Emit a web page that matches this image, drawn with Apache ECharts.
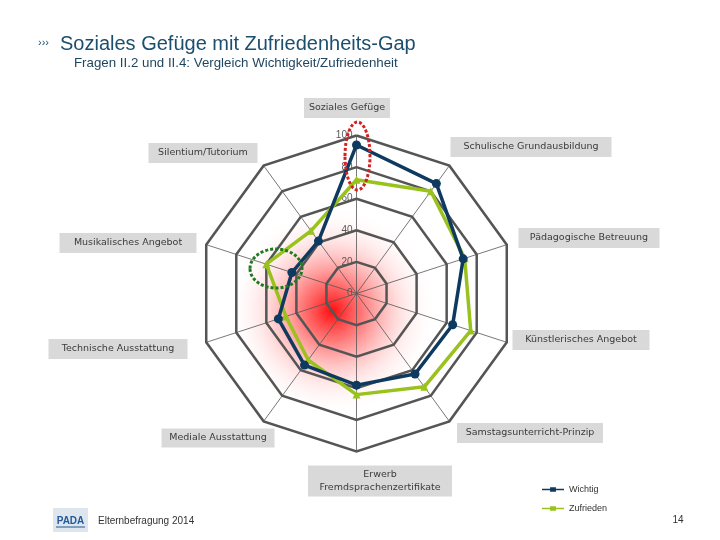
<!DOCTYPE html>
<html><head><meta charset="utf-8">
<script src="https://cdn.jsdelivr.net/npm/echarts@6/dist/echarts.min.js"></script>
<style>html,body{margin:0;padding:0;background:#fff}#c{width:720px;height:540px}</style>
</head><body><div id="c"></div>
<script>
// ---- data (clockwise from top) ----
const categories = ['Soziales Gefüge','Schulische Grundausbildung','Pädagogische Betreuung','Künstlerisches Angebot','Samstagsunterricht-Prinzip','Erwerb\nFremdsprachenzertifikate','Mediale Ausstattung','Technische Ausstattung','Musikalisches Angebot','Silentium/Tutorium'];
const wichtig   = [94, 86, 71, 64, 63, 58, 56, 52, 43, 41];
const zufrieden = [72, 80, 72, 76, 73, 64, 52, 47, 60, 49];
const seriesNames = ['Wichtig', 'Zufrieden'];
const axisMin = 0, axisMax = 100, axisSplits = 5;

// ---- layout (label boxes: cx, cy, w, h) ----
const labelBoxes = [[347,108,86,20],[531,147,161,20],[589,238,141,20],[581,340,137,20],[530,433,146,20],[380,481,144,31],[218,438,113,19],[118,349,139,20],[128,243,137,20],[203,153,109,20]];
const CX = 356.5, CY = 293.5, R = 158;
const NAVY = '#0f3a60', GREEN = '#99c21d', TITLE = '#1c4e6e';

// ECharts lays radar indicators counter-clockwise: reorder to get clockwise
const order = categories.map((_, i) => (categories.length - i) % categories.length);
const indicator = order.map(i => ({ name: categories[i], min: axisMin, max: axisMax }));
indicator[0].axisLabel = { show: true, color: '#595959', fontSize: 10, fontFamily: 'Liberation Sans', margin: 4, align: 'right' };

const graphics = [];
// red radial glow below the grid
graphics.push({ type: 'circle', z: -10, silent: true, shape: { cx: 332, cy: 311, r: 105 },
  style: { fill: { type: 'radial', x: 0.5, y: 0.5, r: 0.5, colorStops: [
    { offset: 0, color: 'rgba(255,0,0,0.95)' }, { offset: 0.3, color: 'rgba(255,40,40,0.6)' },
    { offset: 0.65, color: 'rgba(255,120,120,0.22)' }, { offset: 1, color: 'rgba(255,255,255,0)' }] } } });
// category label boxes
categories.forEach((name, i) => {
  const [cx, cy, w, h] = labelBoxes[i];
  graphics.push({ type: 'rect', z: 5, shape: { x: cx - w / 2, y: cy - h / 2, width: w, height: h }, style: { fill: '#d9d9d9' } });
  graphics.push({ type: 'text', z: 6, x: cx, y: cy, style: { text: name, fill: '#3a3a3a', font: '9.5px "DejaVu Sans"', align: 'center', verticalAlign: 'middle', lineHeight: 13 } });
});
// annotation ellipses
graphics.push({ type: 'ellipse', z: 20, shape: { cx: 357.5, cy: 156, rx: 12.5, ry: 34 }, style: { fill: 'none', stroke: '#d42020', lineWidth: 3, lineDash: [3, 2] } });
graphics.push({ type: 'ellipse', z: 20, shape: { cx: 276, cy: 268.5, rx: 26, ry: 19.5 }, style: { fill: 'none', stroke: '#1e7a1e', lineWidth: 3, lineDash: [3, 2] } });
// header / footer
graphics.push({ type: 'text', x: 38, y: 43, style: { text: '›››', fill: TITLE, font: '11px "Liberation Sans"', verticalAlign: 'middle' } });
graphics.push({ type: 'text', x: 60, y: 44, style: { text: 'Soziales Gefüge mit Zufriedenheits-Gap', fill: TITLE, font: '20px "Liberation Sans"', verticalAlign: 'middle' } });
graphics.push({ type: 'text', x: 74, y: 63, style: { text: 'Fragen II.2 und II.4: Vergleich Wichtigkeit/Zufriedenheit', fill: '#1f4660', font: '13.3px "Liberation Sans"', verticalAlign: 'middle' } });
graphics.push({ type: 'rect', shape: { x: 53, y: 508, width: 35, height: 24 }, style: { fill: '#dfe5ec' } });
graphics.push({ type: 'text', x: 70.5, y: 521, style: { text: 'PADA', fill: '#1f5a9a', font: 'bold 10px "Liberation Sans"', align: 'center', verticalAlign: 'middle' } });
graphics.push({ type: 'line', shape: { x1: 56, y1: 527, x2: 85, y2: 527 }, style: { stroke: '#1f5a9a', lineWidth: 1 } });
graphics.push({ type: 'text', x: 98, y: 521, style: { text: 'Elternbefragung 2014', fill: '#333', font: '10px "Liberation Sans"', verticalAlign: 'middle' } });
graphics.push({ type: 'text', x: 678, y: 520, style: { text: '14', fill: '#333', font: '10px "Liberation Sans"', align: 'center', verticalAlign: 'middle' } });

const chart = echarts.init(document.getElementById('c'), null, { renderer: 'canvas' });
chart.setOption({
  animation: false,
  backgroundColor: '#fff',
  legend: {
    data: seriesNames, orient: 'vertical', left: 537, top: 480, itemGap: 10,
    itemWidth: 22, itemHeight: 6,
    icon: 'path://M0,2.5H30V4.5H0Z M11,0.5H19V6.5H11Z',
    textStyle: { fontSize: 9, color: '#333', fontFamily: 'Liberation Sans' }
  },
  radar: {
    center: [CX, CY], radius: R, startAngle: 90, shape: 'polygon', splitNumber: axisSplits,
    indicator: indicator,
    axisName: { show: false },
    axisLabel: { show: false },
    splitLine: { lineStyle: { color: '#555555', width: 2.5 } },
    splitArea: { show: false },
    axisLine: { lineStyle: { color: '#555555', width: 0.8 } },
    axisTick: { show: false }
  },
  graphic: graphics,
  series: [{
    type: 'radar', z: 3,
    data: [
      { name: seriesNames[1], value: order.map(i => zufrieden[i]), symbol: 'triangle', symbolSize: 8,
        lineStyle: { color: GREEN, width: 3.5 }, itemStyle: { color: GREEN } },
      { name: seriesNames[0], value: order.map(i => wichtig[i]), symbol: 'circle', symbolSize: 9,
        lineStyle: { color: NAVY, width: 3.5 }, itemStyle: { color: NAVY } }
    ]
  }]
});
</script></body></html>
